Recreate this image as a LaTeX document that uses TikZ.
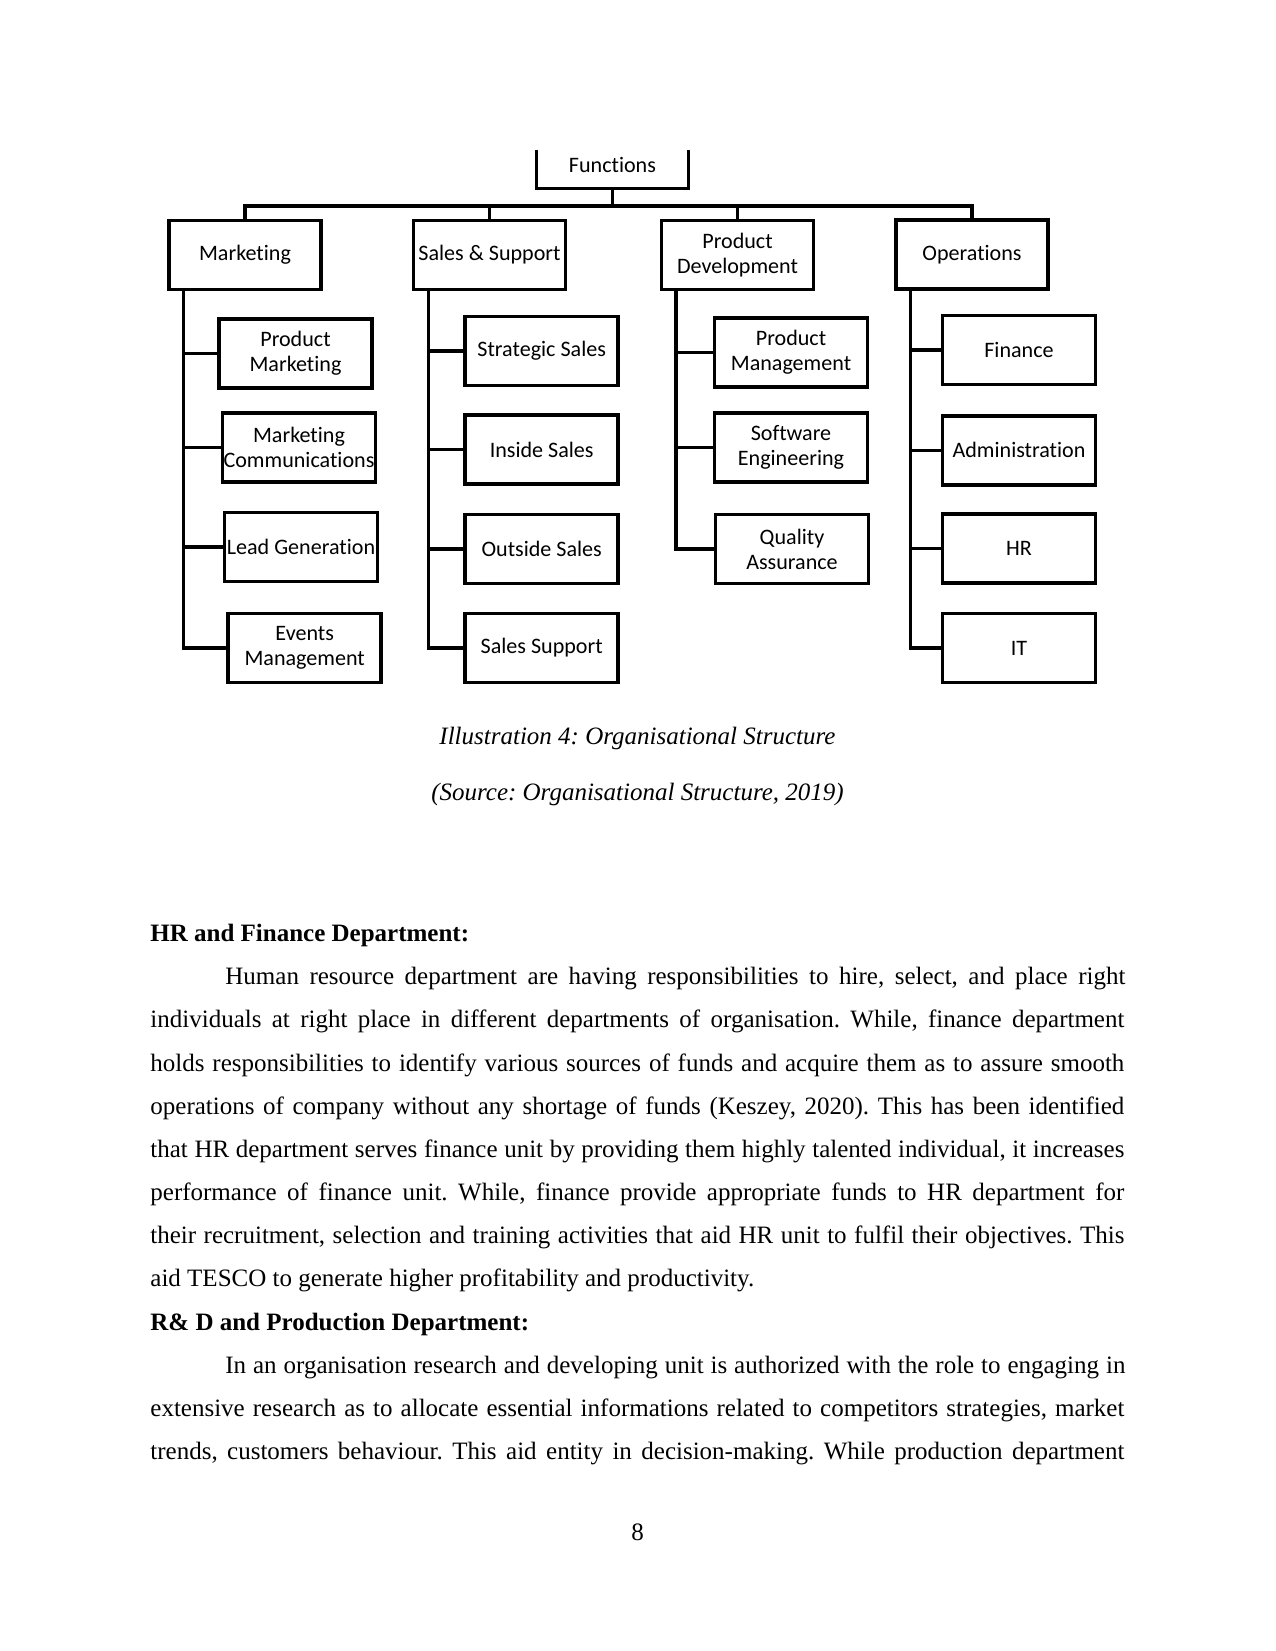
\documentclass[tikz,border=0pt]{standalone}
\usepackage{fontspec}
\setmainfont{Liberation Serif}
\newfontfamily\calfont[Ligatures=NoCommon]{Carlito}
\frenchspacing
\begin{document}
\begin{tikzpicture}[x=0.48pt,y=-0.48pt,
  box/.style={draw, line width=1.68pt, minimum width=73.4pt, minimum height=33.1pt, inner sep=0pt, align=center, font=\calfont\fontsize{10.6}{12}\selectfont},
  head/.style={box, minimum width=73pt},
  conn/.style={line width=1.68pt},
  body/.style={anchor=base west, inner sep=0pt, font=\fontsize{12}{14}\selectfont},
  captext/.style={anchor=base, inner sep=0pt, font=\fontsize{12}{14}\selectfont\itshape}]
\fill[white] (0,0) rectangle (1275,1651);
\useasboundingbox (0,0) rectangle (1275,1651);

% top node (cropped box, open at top)
\node[inner sep=0pt, minimum width=72.5pt, minimum height=18.24pt, font=\calfont\fontsize{10.6}{12}\selectfont] (functions) at (612.5,169) {\raisebox{3.5pt}{Functions}};
\draw[conn] (functions.north west) -- (functions.south west) -- (functions.south east) -- (functions.north east);

% level 1
\node[head] (mkt) at (245,255) {Marketing};
\node[head] (sal) at (489.5,255) {Sales \& Support};
\node[head] (pdv) at (737.5,255) {Product\\Development};
\node[head] (ops) at (972,254.5) {Operations};

\coordinate (bus) at (612.5,206);
\draw[conn] (functions.south) -- (bus);
\draw[conn] (mkt.north) -- (mkt.north |- bus) -- (ops.north |- bus) -- (ops.north);
\draw[conn] (sal.north) -- (sal.north |- bus);
\draw[conn] (pdv.north) -- (pdv.north |- bus);

% Marketing column
\node[box] (pm) at (295.5,353.5) {Product\\Marketing};
\node[box] (mc) at (299,447.7) {Marketing\\Communications};
\node[box] (lg) at (301,547) {Lead Generation};
\node[box] (em) at (304.7,648) {Events\\Management};
\coordinate (mks) at (183.3,289);
\draw[conn] (mks) |- (em.west);
\draw[conn] (mks |- pm.west) -- (pm.west);
\draw[conn] (mks |- mc.west) -- (mc.west);
\draw[conn] (mks |- lg.west) -- (lg.west);

% Sales column
\node[box] (ss) at (541.7,351) {Strategic Sales};
\node[box] (is) at (541.7,449.7) {Inside Sales};
\node[box] (os) at (541.7,549) {Outside Sales};
\node[box] (sp) at (541.7,648) {Sales Support};
\coordinate (sls) at (428.3,289);
\draw[conn] (sls) |- (sp.west);
\draw[conn] (sls |- ss.west) -- (ss.west);
\draw[conn] (sls |- is.west) -- (is.west);
\draw[conn] (sls |- os.west) -- (os.west);

% Product Development column
\node[box] (pmg) at (791,352.3) {Product\\Management};
\node[box] (se) at (791,447.7) {Software\\Engineering};
\node[box] (qa) at (792,549) {Quality\\Assurance};
\coordinate (pds) at (676,289);
\draw[conn] (pds) |- (qa.west);
\draw[conn] (pds |- pmg.west) -- (pmg.west);
\draw[conn] (pds |- se.west) -- (se.west);

% Operations column
\node[box] (fin) at (1019,350) {Finance};
\node[box] (adm) at (1019,450.3) {Administration};
\node[box] (hr) at (1019,548.4) {HR};
\node[box] (it) at (1019,648) {IT};
\coordinate (ops2) at (910.7,289);
\draw[conn] (ops2) |- (it.west);
\draw[conn] (ops2 |- fin.west) -- (fin.west);
\draw[conn] (ops2 |- adm.west) -- (adm.west);
\draw[conn] (ops2 |- hr.west) -- (hr.west);

% captions
\node[captext] (cap1) at (637.5,744.5) {Illustration 4: Organisational Structure};
\node[captext] (cap2) at (637.5,800) {(Source: Organisational Structure, 2019)};

% body text
\node[body] (l1) at (150,941.5) {\textbf{HR and Finance Department:}};
\node[body] (l2) at (225,984.7) {\hbox to 432pt{Human resource department are having responsibilities to hire, select, and place right}};
\node[body] (l3) at (150,1027.8) {\hbox to 467.5pt{individuals at right place in different departments of organisation. While, finance department}};
\node[body] (l4) at (150,1071.0) {\hbox to 467.5pt{holds responsibilities to identify various sources of funds and acquire them as to assure smooth}};
\node[body] (l5) at (150,1114.2) {\hbox to 467.5pt{operations of company without any shortage of funds (Keszey, 2020). This has been identified}};
\node[body] (l6) at (150,1157.4) {\hbox to 467.5pt{that HR department serves finance unit by providing them highly talented individual, it increases}};
\node[body] (l7) at (150,1200.5) {\hbox to 467.5pt{performance of finance unit. While, finance provide appropriate funds to HR department for}};
\node[body] (l8) at (150,1243.7) {\hbox to 467.5pt{their recruitment, selection and training activities that aid HR unit to fulfil their objectives. This}};
\node[body] (l9) at (150,1286.9) {aid TESCO to generate higher profitability and productivity.};
\node[body] (l10) at (150,1330.0) {\textbf{R\& D and Production Department:}};
\node[body] (l11) at (225,1373.2) {\hbox to 432pt{In an organisation research and developing unit is authorized with the role to engaging in}};
\node[body] (l12) at (150,1416.4) {\hbox to 467.5pt{extensive research as to allocate essential informations related to competitors strategies, market}};
\node[body] (l13) at (150,1459.5) {\hbox to 467.5pt{trends, customers behaviour. This aid entity in decision-making. While production department}};

% page number
\node[anchor=base, inner sep=0pt, font=\fontsize{12}{14}\selectfont] (pg) at (637.5,1540.7) {8};
\end{tikzpicture}
\end{document}
